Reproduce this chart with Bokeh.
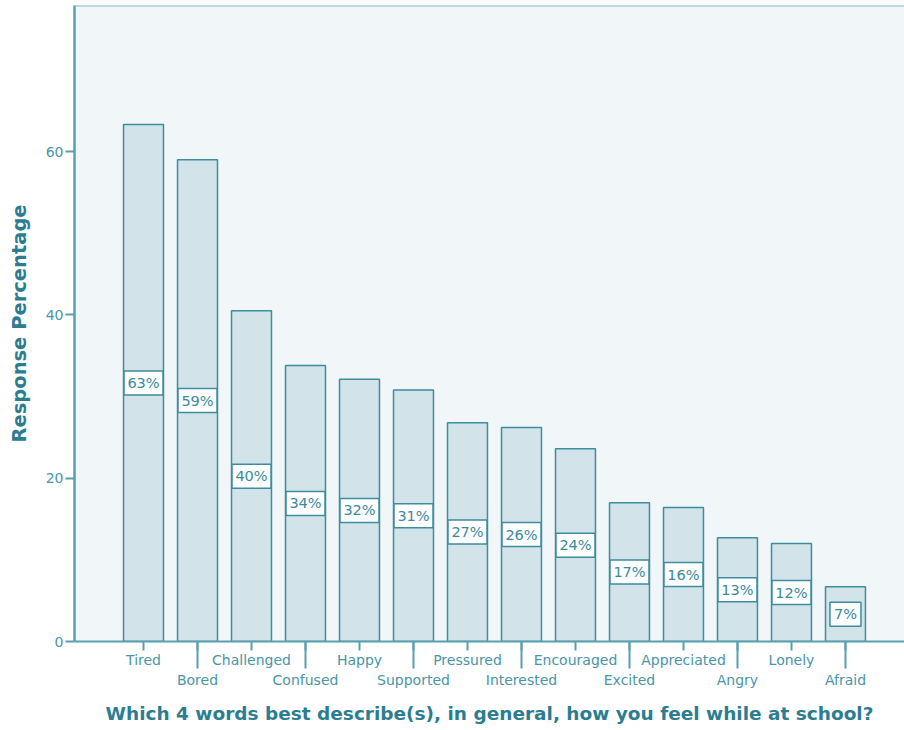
from bokeh.plotting import figure
from bokeh.models import Range1d, FixedTicker, ColumnDataSource, Span
from bokeh.core.properties import value
from bokeh.embed import file_html
from bokeh.resources import INLINE

# ---- data ----
words = ["Tired", "Bored", "Challenged", "Confused", "Happy", "Supported",
         "Pressured", "Interested", "Encouraged", "Excited", "Appreciated",
         "Angry", "Lonely", "Afraid"]
percent = [63.3, 59.0, 40.5, 33.8, 32.1, 30.8, 26.8, 26.2, 23.6, 17.0,
           16.4, 12.7, 12.0, 6.7]
y_ticks = [0, 20, 40, 60]
x_title = "Which 4 words best describe(s), in general, how you feel while at school?"
y_title = "Response Percentage"

# ---- style ----
FONT = "DejaVu Sans"
TICK_TEXT = "#4a95a7"
TITLE_TEXT = "#2b7d91"
AXIS = "#5a9fb0"
BAR_LINE = "#3d8c9f"
BAR_FILL = "#d2e4ea"
BG = "#f1f6f9"
Y_TOP = 77.88

xs = list(range(len(words)))
labels = [f"{round(v)}%" for v in percent]
mids = [v / 2 for v in percent]
box_w = [8 * len(t) + 15 for t in labels]

src = ColumnDataSource(dict(x=xs, top=percent, mid=mids, lab=labels, bw=box_w))

p = figure(width=904, height=730,
           x_range=Range1d(-1.278, 14.093), y_range=Range1d(0, Y_TOP),
           output_backend="svg", toolbar_location=None,
           min_border_left=74, min_border_right=0, min_border_top=5,
           min_border_bottom=89,
           background_fill_color=BG, border_fill_color="white",
           outline_line_color=None)
p.xgrid.visible = False
p.ygrid.visible = False

# top frame line (the right side of the frame is cut off in the original)
p.add_layout(Span(location=Y_TOP, dimension="width", line_color="#86b9c8",
                  line_width=2))

p.vbar(x="x", top="top", width=0.74, source=src,
       fill_color=BAR_FILL, line_color=BAR_LINE, line_width=1.5)
p.rect(x="x", y="mid", width="bw", height=24, width_units="screen",
       height_units="screen", source=src, fill_color="white",
       line_color=BAR_LINE, line_width=1.5)
p.text(x="x", y="mid", text="lab", source=src, text_align="center",
       text_baseline="middle", text_font=value(FONT), text_font_size="14.5px",
       text_color="#3a8a9d")

# ---- x axis: staggered labels (odd ones on a second line) ----
odd = [i for i in xs if i % 2 == 1]
xa = p.xaxis[0]
xa.ticker = FixedTicker(ticks=xs, minor_ticks=odd)
xa.major_label_overrides = {i: (words[i] if i % 2 == 0 else "\n" + words[i])
                            for i in xs}
xa.major_tick_out = 9
xa.major_tick_in = 0
xa.minor_tick_out = 27
xa.minor_tick_in = 0
xa.major_label_standoff = -17
xa.major_label_text_font = FONT
xa.major_label_text_font_size = "14px"
xa.major_label_text_line_height = 1.25
xa.major_label_text_color = TICK_TEXT
xa.axis_line_color = AXIS
xa.axis_line_width = 2
xa.major_tick_line_color = AXIS
xa.major_tick_line_width = 2
xa.minor_tick_line_color = AXIS
xa.minor_tick_line_width = 2
xa.axis_label = x_title
xa.axis_label_text_font = FONT
xa.axis_label_text_font_style = "bold"
xa.axis_label_text_font_size = "18.5px"
xa.axis_label_text_color = TITLE_TEXT
xa.axis_label_standoff = 12

# ---- y axis ----
ya = p.yaxis[0]
ya.ticker = FixedTicker(ticks=y_ticks, minor_ticks=[])
ya.major_tick_out = 9
ya.major_tick_in = 0
ya.major_label_standoff = 2
ya.major_label_text_font = FONT
ya.major_label_text_font_size = "14px"
ya.major_label_text_color = TICK_TEXT
ya.axis_line_color = AXIS
ya.axis_line_width = 2.5
ya.major_tick_line_color = AXIS
ya.major_tick_line_width = 2
ya.axis_label = y_title
ya.axis_label_text_font = FONT
ya.axis_label_text_font_style = "bold"
ya.axis_label_text_font_size = "19.5px"
ya.axis_label_text_color = TITLE_TEXT
ya.axis_label_standoff = 12

open("out.html", "w").write(file_html(p, INLINE))
